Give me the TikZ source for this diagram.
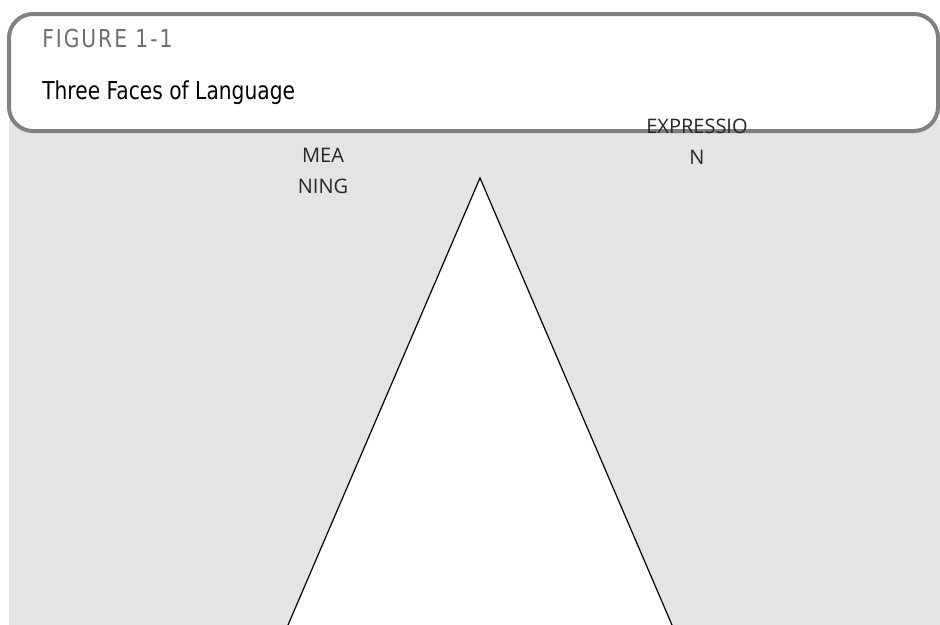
\documentclass[tikz,border=0pt]{standalone}
\usepackage{fontspec}
\usetikzlibrary{calc}
\newfontfamily\titlefont[FakeStretch=0.82]{DejaVu Sans}
\newfontfamily\figfont[FakeStretch=0.82,LetterSpace=8]{DejaVu Sans}
\newfontfamily\labelfont{Open Sans}
\definecolor{bggray}{HTML}{E4E4E4}
\definecolor{framegray}{HTML}{808080}
\definecolor{figgray}{HTML}{6E6E6E}
\begin{document}
\begin{tikzpicture}[x=0.75pt,y=-0.75pt,
  lbl/.style={font=\labelfont\fontsize{15}{23}\selectfont, text=black!85, align=center, inner sep=0pt},
  ttl/.style={font=\titlefont\fontsize{18.5}{22}\selectfont, anchor=base west, inner sep=0pt},
  figlbl/.style={font=\figfont\fontsize{18.5}{22}\selectfont, anchor=base west, inner sep=0pt, text=figgray}]
\useasboundingbox (0,0) rectangle (940,625);
\begin{scope}
\clip (0,0) rectangle (940,625);
\fill[bggray] (9,120) rectangle (945,630);
\draw[framegray, line width=3pt, fill=white, rounded corners=18pt] (9,14) rectangle (938,131);
\coordinate (apex) at (480,178);
\coordinate (bl) at (288,625);
\coordinate (br) at (672,625);
\filldraw[fill=white, draw=black, line width=0.9pt] ($(apex)!1.05!(bl)$) -- (apex) -- ($(apex)!1.05!(br)$);
\end{scope}
\node[figlbl] (fig) at (42,47) {FIGURE 1-1};
\node[ttl] (title) at (42,99) {Three Faces of Language};
\node[lbl, anchor=base] (meaning) at (323,193) {MEA\\NING};
\node[lbl, anchor=base] (expression) at (697,164) {EXPRESSIO\\N};
\end{tikzpicture}
\end{document}
